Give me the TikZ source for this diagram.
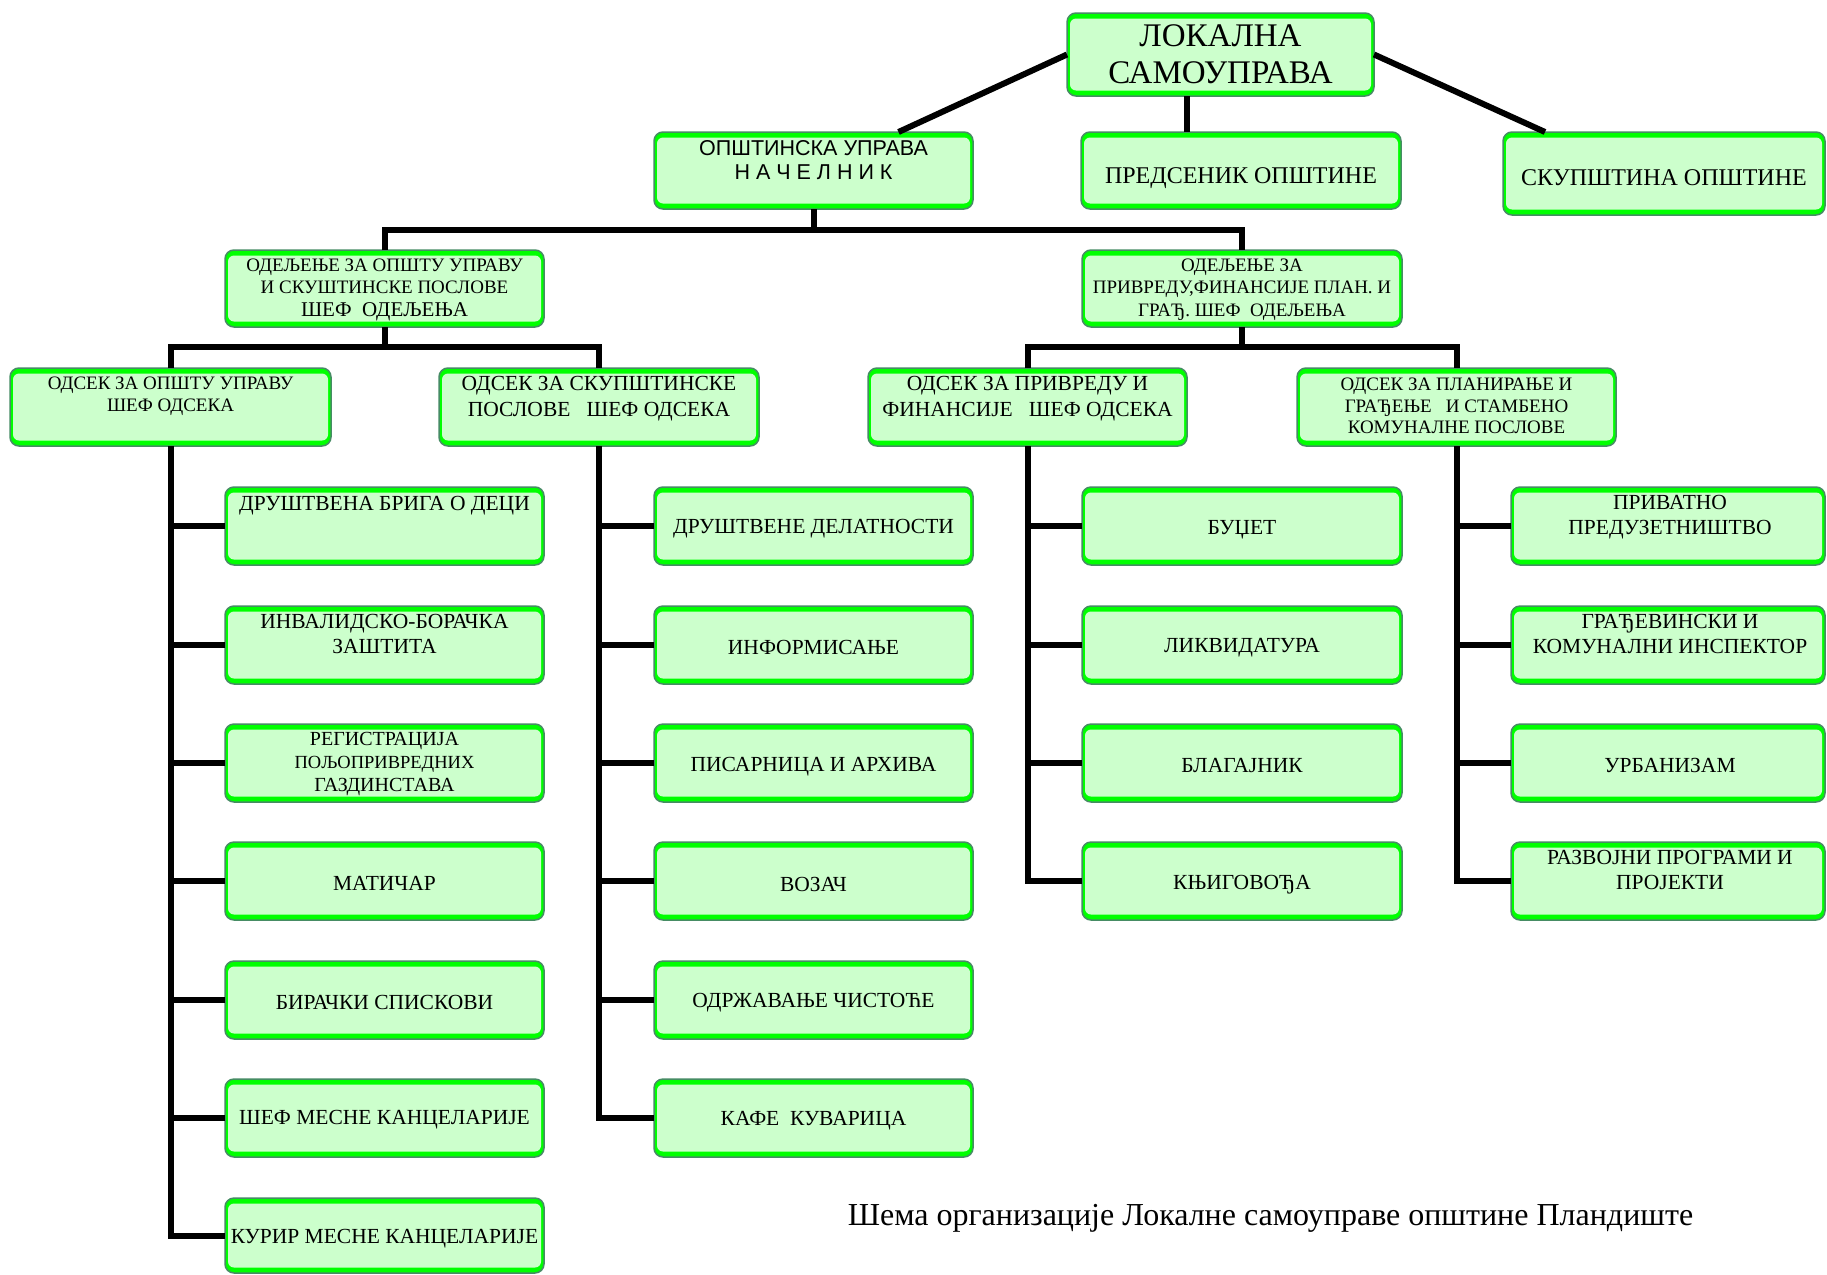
\documentclass[tikz,border=0pt]{standalone}
\usepackage{fontspec}
\setmainfont{Liberation Serif}
\newfontfamily\sansf{Liberation Sans}
\definecolor{boxfill}{RGB}{204,255,204}
\definecolor{brightg}{RGB}{0,255,0}
\definecolor{edgec}{RGB}{70,140,100}
\newcommand\fsz[2]{\fontsize{#1}{#2}\selectfont}
\tikzset{
  obox/.style={draw=edgec, line width=1.5pt, fill=brightg, rounded corners=9pt, inner sep=0pt, outer sep=0pt},
  ibox/.style={fill=boxfill, rounded corners=6pt, inner sep=0pt, draw=none},
  conn/.style={line width=6pt, draw=black},
  lbl/.style={align=center, inner sep=0pt, text=black},
  leaf/.style={lbl, font=\fsz{21.5}{25}},
}
% name, x1, y1, x2, y2
\newcommand\gbx[5]{%
  \node[obox, minimum width={#4-#2}, minimum height={#5-#3}] (#1) at ({(#2+#4)/2},{(#3+#5)/2}) {};
  \node[ibox, minimum width={#4-#2-6}, minimum height={#5-#3-11}] (#1in) at (#1.center) {};
}
\begin{document}
\begin{tikzpicture}[x=1pt, y=-1pt]
\fill[white] (0,0) rectangle (1827,1274);
\useasboundingbox (0,0) rectangle (1827,1274);

% ---------- boxes ----------
\gbx{LS}{1067}{13}{1374}{96}
\gbx{OU}{654}{132}{973}{209}
\gbx{PR}{1081}{132}{1401}{209}
\gbx{SK}{1503}{132}{1825}{215}

\gbx{OD1}{225}{250}{544}{327}
\gbx{OD2}{1082}{250}{1402}{327}

\gbx{OS1}{10}{368}{331}{446}
\gbx{OS2}{439}{368}{759}{446}
\gbx{OS3}{868}{368}{1187}{446}
\gbx{OS4}{1297}{368}{1616}{446}

% column 1
\gbx{a1}{225}{487}{544}{565}
\gbx{a2}{225}{606}{544}{684}
\gbx{a3}{225}{724}{544}{802}
\gbx{a4}{225}{842}{544}{920}
\gbx{a5}{225}{961}{544}{1039}
\gbx{a6}{225}{1079}{544}{1157}
\gbx{a7}{225}{1198}{544}{1273}
% column 2
\gbx{b1}{654}{487}{973}{565}
\gbx{b2}{654}{606}{973}{684}
\gbx{b3}{654}{724}{973}{802}
\gbx{b4}{654}{842}{973}{920}
\gbx{b5}{654}{961}{973}{1039}
\gbx{b6}{654}{1079}{973}{1157}
% column 3
\gbx{c1}{1082}{487}{1402}{565}
\gbx{c2}{1082}{606}{1402}{684}
\gbx{c3}{1082}{724}{1402}{802}
\gbx{c4}{1082}{842}{1402}{920}
% column 4
\gbx{d1}{1511}{487}{1825}{565}
\gbx{d2}{1511}{606}{1825}{684}
\gbx{d3}{1511}{724}{1825}{802}
\gbx{d4}{1511}{842}{1825}{920}

% ---------- connectors ----------
\draw[conn] (LS.west) -- ([xshift=85pt]OU.north);
\draw[conn] ([xshift=-34pt]LS.south) -- ([xshift=-34pt]LS.south |- PR.north);
\draw[conn] (LS.east) -- ([xshift=-119pt]SK.north);

\coordinate (bus1) at (OU.south |- 0,229.5);
\draw[conn] (OU.south) -- (bus1);
\draw[conn] (OD1.north) |- (bus1) -| (OD2.north);

\coordinate (bus2) at (OD1.south |- 0,347);
\draw[conn] (OD1.south) -- (bus2);
\draw[conn] (OS1.north) |- (bus2) -| (OS2.north);

\coordinate (bus3) at (OD2.south |- 0,347);
\draw[conn] (OD2.south) -- (bus3);
\draw[conn] (OS3.north) |- (bus3) -| (OS4.north);

\draw[conn] (OS1.south) |- (a7.west);
\foreach \n in {a1,a2,a3,a4,a5,a6}{\draw[conn] (\n.west) -- (\n.west -| OS1.south);}
\draw[conn] (OS2.south) |- (b6.west);
\foreach \n in {b1,b2,b3,b4,b5}{\draw[conn] (\n.west) -- (\n.west -| OS2.south);}
\draw[conn] (OS3.south) |- (c4.west);
\foreach \n in {c1,c2,c3}{\draw[conn] (\n.west) -- (\n.west -| OS3.south);}
\draw[conn] (OS4.south) |- (d4.west);
\foreach \n in {d1,d2,d3}{\draw[conn] (\n.west) -- (\n.west -| OS4.south);}

% ---------- labels ----------
\node[lbl, font=\fsz{33}{37}] (tLS) at (LS.center) {ЛОКАЛНА\\САМОУПРАВА};
\node[lbl, font=\sansf\fsz{21.5}{24}] (tOU) at (813.5,160) {ОПШТИНСКА УПРАВА\\Н А Ч Е Л Н И К};
\node[lbl, font=\fsz{24}{28}] (tPR) at (1241,178) {ПРЕДСЕНИК ОПШТИНЕ};
\node[lbl, font=\fsz{24}{28}] (tSK) at (1664,178) {СКУПШТИНА ОПШТИНЕ};

\node[lbl, font=\fsz{19}{22.5}] (tOD1) at (384.5,289.5) {ОДЕЉЕЊЕ ЗА ОПШТУ УПРАВУ\\И СКУШТИНСКЕ ПОСЛОВЕ\\{\fsz{21}{22.5}ШЕФ\ \ ОДЕЉЕЊА}};
\node[lbl, font=\fsz{19}{22.5}] (tOD2) at (1242,289.5) {ОДЕЉЕЊЕ ЗА\\ПРИВРЕДУ,ФИНАНСИЈЕ ПЛАН. И\\ГРАЂ. ШЕФ\ \ ОДЕЉЕЊА};

\node[lbl, font=\fsz{19}{22.5}] (tOS1) at (170.5,396) {ОДСЕК ЗА ОПШТУ УПРАВУ\\ШЕФ ОДСЕКА};
\node[lbl, font=\fsz{21.5}{25.5}] (tOS2) at (599,398.5) {ОДСЕК ЗА СКУПШТИНСКЕ\\ПОСЛОВЕ\ \ \ ШЕФ ОДСЕКА};
\node[lbl, font=\fsz{21.5}{25.5}] (tOS3) at (1027.5,398.5) {ОДСЕК ЗА ПРИВРЕДУ И\\ФИНАНСИЈЕ\ \ \ ШЕФ ОДСЕКА};
\node[lbl, font=\fsz{19}{21.5}] (tOS4) at (1456.5,406) {ОДСЕК ЗА ПЛАНИРАЊЕ И\\ГРАЂЕЊЕ\ \ \ И СТАМБЕНО\\КОМУНАЛНЕ ПОСЛОВЕ};

\node[leaf] (ta1) at (384.5,506) {ДРУШТВЕНА БРИГА О ДЕЦИ};
\node[leaf] (ta2) at (384.5,634) {ИНВАЛИДСКО-БОРАЧКА\\ЗАШТИТА};
\node[leaf, font=\fsz{20}{23}] (ta3) at (384.5,764) {РЕГИСТРАЦИЈА\\{\fsz{18.5}{23}ПОЉОПРИВРЕДНИХ}\\ГАЗДИНСТАВА};
\node[leaf] (ta4) at (384.5,883) {МАТИЧАР};
\node[leaf] (ta5) at (384.5,1002) {БИРАЧКИ СПИСКОВИ};
\node[leaf] (ta6) at (384.5,1120) {ШЕФ МЕСНЕ КАНЦЕЛАРИЈЕ};
\node[leaf] (ta7) at (384.5,1238.5) {КУРИР МЕСНЕ КАНЦЕЛАРИЈЕ};

\node[leaf] (tb1) at (813.5,528.5) {ДРУШТВЕНЕ ДЕЛАТНОСТИ};
\node[leaf] (tb2) at (813.5,647) {ИНФОРМИСАЊЕ};
\node[leaf] (tb3) at (813.5,766.5) {ПИСАРНИЦА И АРХИВА};
\node[leaf] (tb4) at (813.5,884) {ВОЗАЧ};
\node[leaf] (tb5) at (813.5,1003) {ОДРЖАВАЊЕ ЧИСТОЋЕ};
\node[leaf] (tb6) at (813.5,1121) {КАФЕ\ \ КУВАРИЦА};

\node[leaf] (tc1) at (1242,529.5) {БУЏЕТ};
\node[leaf] (tc2) at (1242,648) {ЛИКВИДАТУРА};
\node[leaf] (tc3) at (1242,765.5) {БЛАГАЈНИК};
\node[leaf] (tc4) at (1242,885) {КЊИГОВОЂА};

\node[leaf] (td1) at (1670,517) {ПРИВАТНО\\ПРЕДУЗЕТНИШТВО};
\node[leaf] (td2) at (1670,634) {ГРАЂЕВИНСКИ И\\КОМУНАЛНИ ИНСПЕКТОР};
\node[leaf] (td3) at (1670,765.5) {УРБАНИЗАМ};
\node[leaf] (td4) at (1670,870) {РАЗВОЈНИ ПРОГРАМИ И\\ПРОЈЕКТИ};

\node[lbl, font=\fsz{32}{36}] (cap) at (1270.5,1218.5) {Шема организације Локалне самоуправе општине Пландиште};
\end{tikzpicture}
\end{document}
